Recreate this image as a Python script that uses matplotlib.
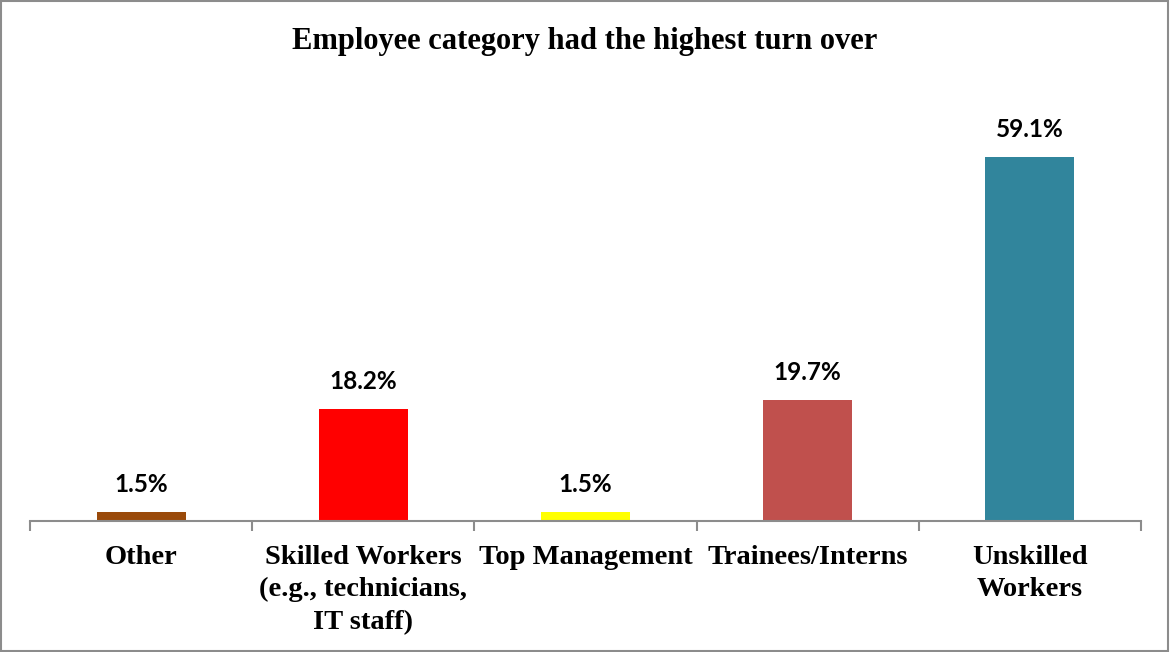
import matplotlib.pyplot as plt
from matplotlib.patches import Rectangle
import numpy as np

# data
categories = ["Other", "Skilled Workers\n(e.g., technicians,\nIT staff)", "Top Management",
              "Trainees/Interns", "Unskilled\nWorkers"]
values = [1.5, 18.2, 1.5, 19.7, 59.1]
colors = ["#9A4A0A", "#FF0000", "#FFFF00", "#C0504D", "#31859C"]

W, H = 1170, 652
fig = plt.figure(figsize=(W / 100, H / 100), dpi=100)

# axes placed in pixel terms: x from 30 to 1141, baseline at y=521
ax = fig.add_axes([30 / W, 131 / H, 1111 / W, 400 / H])
x = np.arange(len(values))
ax.bar(x, values, width=0.4, color=colors)
ax.set_xlim(-0.5, len(values) - 0.5)
ax.set_ylim(0, 65)

# value labels
for xi, v in zip(x, values):
    ax.text(xi, v + 2.6, f"{v}%", ha="center", va="bottom", fontsize=17.5,
            fontweight="bold", family="Lato")

# axes style
for s in ["top", "right", "left"]:
    ax.spines[s].set_visible(False)
ax.spines["bottom"].set_color("#8C8C8C")
ax.spines["bottom"].set_linewidth(1.5)
ax.set_yticks([])
ax.set_xticks(np.arange(-0.5, len(values), 1.0))
ax.set_xticklabels([])
ax.tick_params(axis="x", length=7, width=1.5, color="#8C8C8C", direction="out")

# category labels
for xi, c in zip(x, categories):
    ax.text(xi, -0.06, c, transform=ax.get_xaxis_transform(), ha="center", va="top",
            fontsize=20.5, fontweight="bold", family="Liberation Serif", linespacing=1.38)

# title
fig.text(0.5, 1 - 41 / H, "Employee category had the highest turn over", ha="center",
         va="center", fontsize=22, fontweight="bold", family="Liberation Serif")

# border
fig.patches.append(Rectangle((0.001, 0.002), 0.997, 0.996, transform=fig.transFigure,
                             fill=False, edgecolor="#8C8C8C", lw=1.5))

fig.savefig("out.png", dpi=100)
